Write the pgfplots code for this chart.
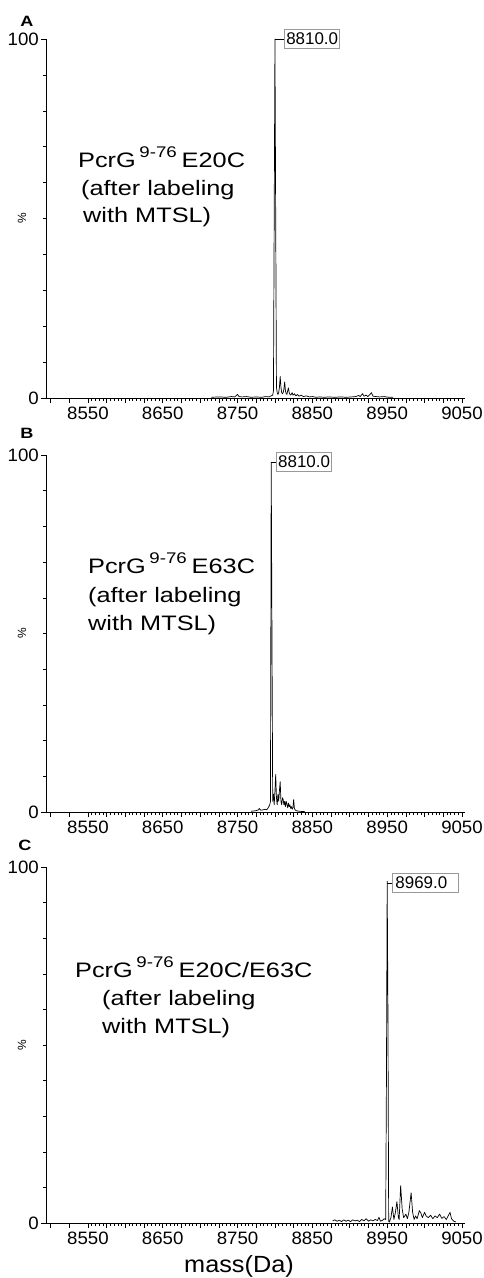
\documentclass[border=0pt]{standalone}
\usepackage{fontspec}
\setmainfont{Liberation Sans}
\usepackage{graphicx}
\usepackage{pgfplots}
\pgfplotsset{compat=1.18}
\newcommand{\sx}[1]{\scalebox{1.21}[1]{#1}}
\newcommand{\tl}[1]{\scalebox{1.04}[1]{\fontsize{18}{19}\selectfont #1}}
\newcommand{\an}{\fontsize{21}{25}\selectfont}
\newcommand{\supr}[1]{\raisebox{10bp}{\fontsize{15.5}{16}\selectfont #1}}
\tikzset{
  pk/.style={draw=gray!80, line width=0.6pt, inner sep=1.5bp, minimum height=19bp, anchor=west, font=\fontsize{17}{18}\selectfont},
  trace/.style={black, line width=0.7pt, line join=round},
}
\pgfplotsset{
  msaxis/.style={
    scale only axis, width=419bp,
    xmin=8494, xmax=9054, ymin=0, ymax=100,
    axis x line=bottom, axis y line=left,
    axis line style={-, line width=0.8pt, black},
    tick align=outside,
    xtick={8550,8650,8750,8850,8950,9050},
    xticklabels={\tl{8550},\tl{8650},\tl{8750},\tl{8850},\tl{8950},\tl{9050}},
    extra x ticks={8500,8525,8575,8600,8625,8675,8700,8725,8775,8800,8825,8875,8900,8925,8975,9000,9025},
    extra x tick labels={},
    extra x tick style={major tick length=4.5bp},
    ytick={0,100}, yticklabels={\tl{0},\tl{100}},
    minor x tick num=19, minor y tick num=9,
    major tick length=5bp, minor tick length=3bp,
    tick style={line width=0.6pt, black},
    xticklabel style={inner sep=2bp, yshift=-1.5bp},
    yticklabel style={inner sep=2bp},
    ylabel={\fontsize{12}{12}\selectfont\%},
    ylabel style={at={(axis description cs:-0.057,0.5)}, anchor=center},
    clip=false,
  },
}
\begin{document}
\begin{tikzpicture}
\useasboundingbox (0,0) rectangle (484bp,-1278bp);

% ---------------- Panel A ----------------
\begin{axis}[msaxis, height=359bp, at={(46bp,-398bp)}, anchor=south west]
\addplot[trace] coordinates {
(8715,0.2) (8725,0.3) (8735,0.2) (8742,0.4) (8746,0.3) (8748,0.6) (8750,1.0) (8752,0.4) (8756,0.3)
(8762,0.4) (8768,0.2) (8775,0.3) (8782,0.2) (8788,0.4) (8792,0.3) (8795,0.6) (8797,0.8)
(8798,2) (8799,50) (8800,100) (8801,50) (8802,3) (8803,1.5) (8804,1) (8805,1.5) (8806,3) (8807,6)
(8808,3) (8809,1.5) (8810,1.2) (8811,1.5) (8812,2.5) (8813,4.5) (8814,2) (8815,1.2) (8816,1) (8817,2)
(8818,2.8) (8819,1.5) (8820,1) (8821,0.8) (8822,1.1) (8823,1.5) (8824,0.8) (8825,0.9) (8826,1.2)
(8828,0.6) (8830,1.0) (8832,0.5) (8835,0.8) (8838,0.4) (8842,0.6) (8846,0.3) (8850,0.4)
(8855,0.2) (8860,0.3) (8866,0.2) (8872,0.3) (8880,0.2) (8888,0.3) (8895,0.2) (8902,0.3)
(8908,0.4) (8912,0.7) (8914,0.4) (8917,1.2) (8919,0.5) (8922,0.8) (8924,0.4) (8927,1.0)
(8929,1.5) (8931,0.5) (8935,0.4) (8940,0.3) (8946,0.4) (8952,0.2) (8958,0.2)
};
\draw[line width=0.6pt] (axis cs:8800,100) -- (axis cs:8812.7,100) node[pk] {8810.0};
\end{axis}

% ---------------- Panel B ----------------
\begin{axis}[msaxis, height=357bp, at={(46bp,-812bp)}, anchor=south west]
\addplot[trace] coordinates {
(8768,0.2) (8772,0.3) (8775,0.4) (8778,0.6) (8779,1.0) (8781,0.5) (8784,0.6) (8787,0.8) (8789,0.6)
(8791,1.2) (8793,2) (8794,3) (8795,98) (8796,50) (8797,3) (8798,5) (8799,2) (8800,6) (8801,10.5)
(8802,4) (8803,2) (8804,5) (8805,3) (8806,6) (8807,8.5) (8808,3) (8809,2) (8810,4) (8811,3.5)
(8812,2) (8813,3) (8814,1.5) (8815,3) (8816,2.2) (8817,1.2) (8818,2.5) (8819,1.5) (8820,2)
(8821,1) (8822,1.5) (8823,0.8) (8824,1.2) (8825,3.5) (8826,1) (8827,0.6) (8828,0.4) (8830,0.3)
(8833,0.2) (8840,0.1)
};
\draw[line width=0.6pt] (axis cs:8795,98) -- (axis cs:8802,98) node[pk] {8810.0};
\end{axis}

% ---------------- Panel C ----------------
\begin{axis}[msaxis, height=356bp, at={(46bp,-1223bp)}, anchor=south west]
\addplot[trace] coordinates {
(8877,0.6) (8880,0.9) (8883,0.5) (8886,0.8) (8889,0.4) (8892,0.9) (8895,0.5) (8898,0.8) (8901,0.4)
(8904,0.9) (8907,0.6) (8910,0.8) (8913,0.4) (8916,1.0) (8919,0.6) (8922,1.2) (8925,0.5) (8928,0.9)
(8931,0.6) (8934,1.0) (8937,0.7) (8939,1.6) (8941,0.5) (8944,0.8) (8946,1.2) (8948,1.0)
(8949,40) (8950,96) (8951,60) (8952,0.5) (8953,0.3) (8955,1.5) (8957,4.5) (8959,1) (8961,3)
(8963,6) (8965,1.5) (8966,1) (8968,10.5) (8970,4) (8972,1.5) (8975,2.5) (8977,1.2) (8979,3)
(8982,8.5) (8984,3) (8986,1) (8988,2) (8990,1.2) (8993,3.5) (8995,2.8) (8997,1.5) (9000,3)
(9002,2) (9005,1.5) (9008,2.2) (9011,1.2) (9014,2) (9017,1.5) (9020,2.5) (9023,1.3) (9026,1.8)
(9029,1.0) (9032,2.2) (9034,3.0) (9036,1.2) (9039,0.5) (9042,0.3)
};
\draw[line width=0.6pt] (axis cs:8950,95.5) -- (axis cs:8956.7,95.5) node[pk, minimum width=66bp, text width=60bp, align=left] {8969.0};
\end{axis}

% ---------------- Text ----------------
\node[font=\fontsize{15}{15}\selectfont\bfseries] at (27bp,-21bp) {\sx{A}};
\node[font=\fontsize{15}{15}\selectfont\bfseries] at (27bp,-433bp) {\sx{B}};
\node[font=\fontsize{15}{15}\selectfont\bfseries] at (25bp,-845bp) {\sx{C}};

\node[anchor=base west, inner sep=0] at (78bp,-167bp) {\sx{\an PcrG\hspace{3bp}\supr{9-76}\hspace{4bp}E20C}};
\node[anchor=base west, inner sep=0] at (81bp,-195bp) {\sx{\an (after labeling}};
\node[anchor=base west, inner sep=0] at (83bp,-222bp) {\sx{\an with MTSL)}};

\node[anchor=base west, inner sep=0] at (88bp,-573bp) {\sx{\an PcrG\hspace{3bp}\supr{9-76}\hspace{4bp}E63C}};
\node[anchor=base west, inner sep=0] at (88bp,-602bp) {\sx{\an (after labeling}};
\node[anchor=base west, inner sep=0] at (88bp,-630bp) {\sx{\an with MTSL)}};

\node[anchor=base west, inner sep=0] at (75bp,-977bp) {\sx{\an PcrG\hspace{3bp}\supr{9-76}\hspace{4bp}E20C/E63C}};
\node[anchor=base west, inner sep=0] at (102bp,-1005bp) {\sx{\an (after labeling}};
\node[anchor=base west, inner sep=0] at (102bp,-1033bp) {\sx{\an with MTSL)}};

\node[anchor=base, inner sep=0] at (239bp,-1272bp) {\scalebox{1.08}[1]{\fontsize{23.5}{25}\selectfont mass(Da)}};
\end{tikzpicture}
\end{document}
